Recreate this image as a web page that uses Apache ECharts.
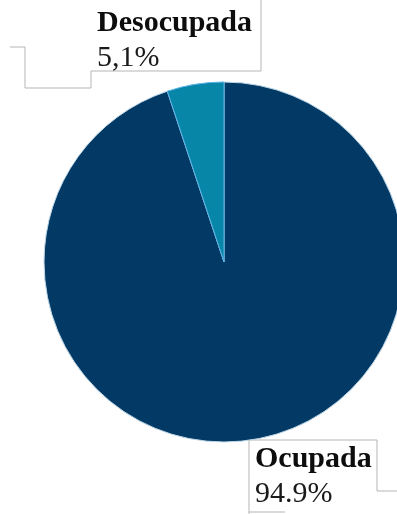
<!DOCTYPE html>
<html>
<head>
<meta charset="utf-8">
<script src="https://cdn.jsdelivr.net/npm/echarts@6/dist/echarts.min.js"></script>
<style>
  html, body { margin: 0; padding: 0; background: #fff; }
  #chart { width: 397px; height: 514px; }
</style>
</head>
<body>
<div id="chart"></div>
<script>
// Occupancy split
const categories = ['Ocupada', 'Desocupada'];
const shares = [94.9, 5.1];
const decimalSeparators = ['.', ','];
const sliceColors = ['#023a65', '#0886a7'];
const edgeColors = ['#bcd6e6', '#5cb2ea'];

// Label anchor points (pixels) for each slice
const labelSpots = [
  { x: 255, y: 442 },
  { x: 97, y: 6 }
];

const chart = echarts.init(document.getElementById('chart'));

chart.setOption({
  animation: false,
  series: [{
    type: 'pie',
    center: [224, 262],
    radius: [0, 180],
    startAngle: 90,
    clockwise: true,
    silent: true,
    avoidLabelOverlap: false,
    data: categories.map((name, i) => ({
      name: name,
      value: shares[i],
      itemStyle: { color: sliceColors[i], borderColor: edgeColors[i], borderWidth: 1 }
    })),
    label: {
      show: true,
      position: 'outside',
      overflow: 'none',
      width: 200,
      formatter: p => '{n|' + p.name + '}\n{v|' +
        p.value.toFixed(1).replace('.', decimalSeparators[p.dataIndex]) + '%}',
      rich: {
        n: { fontFamily: 'Liberation Serif', fontWeight: 'bold', fontSize: 30, color: '#0d0d0d', lineHeight: 35 },
        v: { fontFamily: 'Liberation Serif', fontSize: 30, color: '#1a1a1a', lineHeight: 35 }
      }
    },
    labelLine: { show: false },
    labelLayout: p => ({
      x: labelSpots[p.dataIndex].x,
      y: labelSpots[p.dataIndex].y,
      align: 'left',
      verticalAlign: 'top'
    })
  }],
  graphic: [
    {
      type: 'polyline',
      shape: { points: [[261, 0], [261, 71], [91, 71], [91, 88], [25, 88], [25, 47], [10, 47]] },
      style: { stroke: '#b5b5b5', lineWidth: 1, fill: null }
    },
    {
      type: 'polyline',
      shape: { points: [[249, 514], [249, 440], [377, 440], [377, 491], [397, 491]] },
      style: { stroke: '#b5b5b5', lineWidth: 1, fill: null }
    },
    {
      type: 'polyline',
      shape: { points: [[249, 512], [285, 512]] },
      style: { stroke: '#b5b5b5', lineWidth: 1, fill: null }
    }
  ]
});
</script>
</body>
</html>
